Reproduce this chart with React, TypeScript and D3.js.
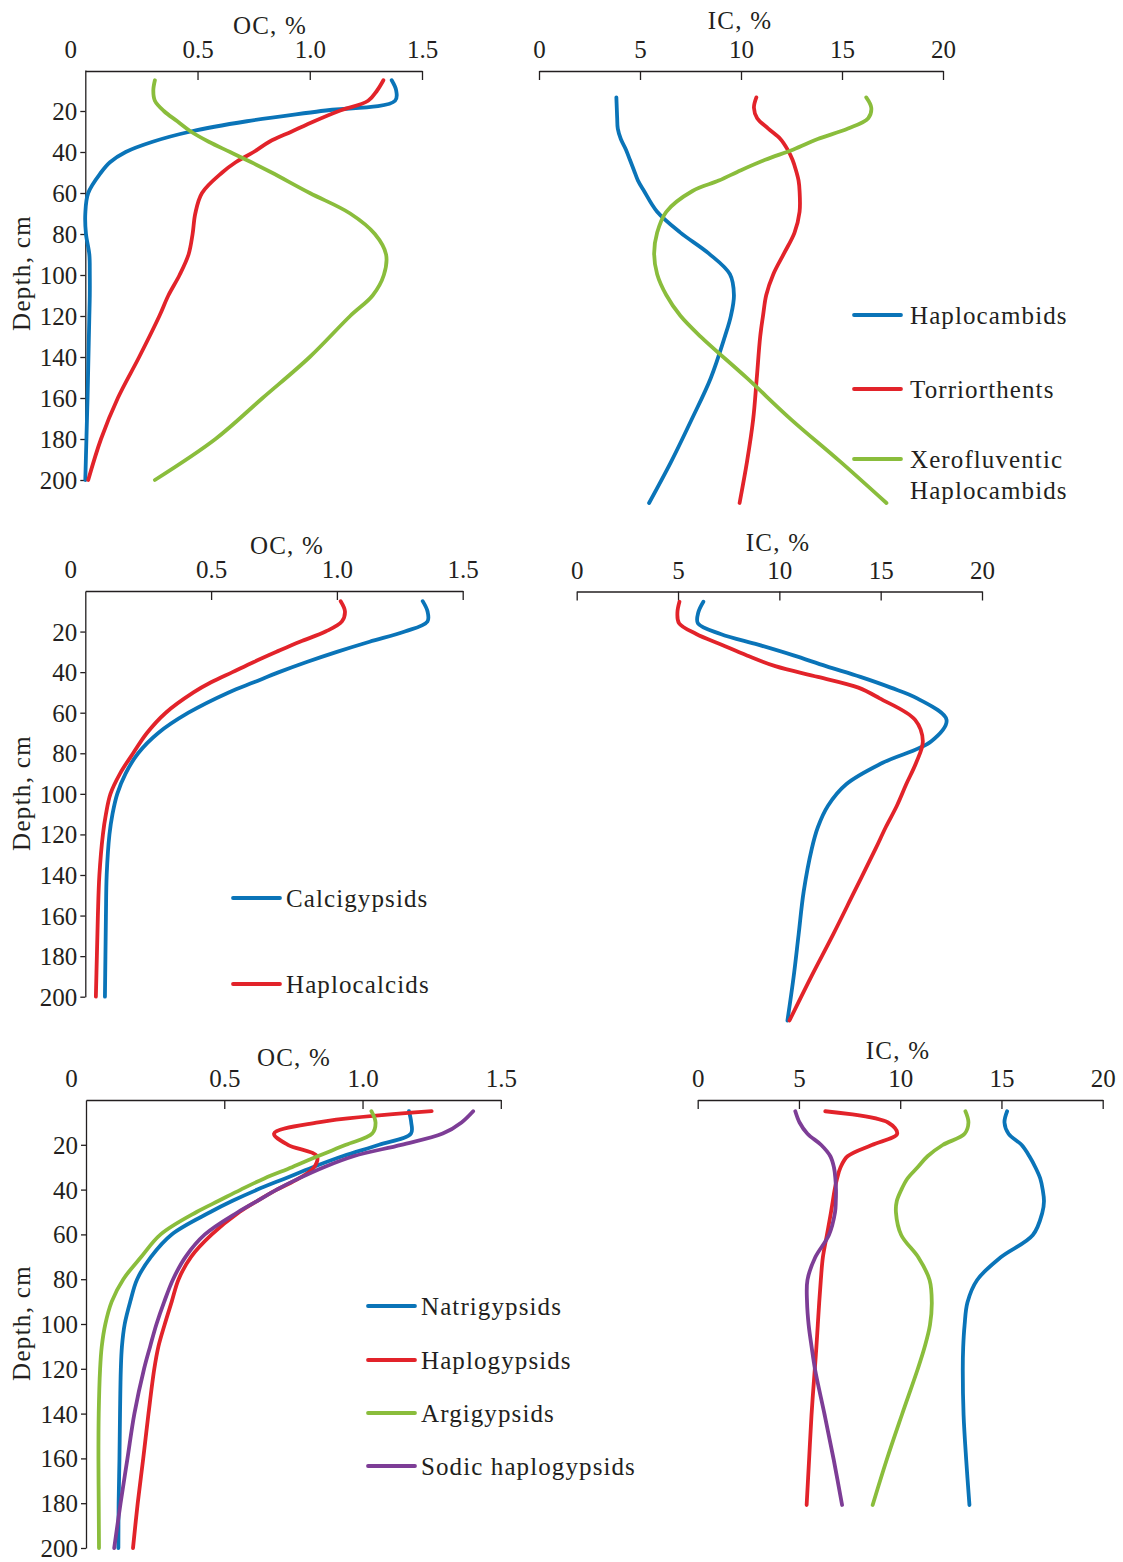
import React, { useEffect, useRef } from 'react';
import * as d3 from 'd3';

// depth grids (cm)
const depths = [5, 10, 15, 20, 25, 30, 35, 40, 45, 50, 60, 70, 80, 90, 100, 110, 120, 140, 160, 180, 200];
const depthsTo180 = [5, 10, 15, 20, 25, 30, 35, 40, 45, 50, 60, 70, 80, 90, 100, 110, 120, 140, 160, 180];
const depthTicks = [20, 40, 60, 80, 100, 120, 140, 160, 180, 200];
const ocTicks = [0, 0.5, 1.0, 1.5];
const icTicks = [0, 5, 10, 15, 20];

// Row 1: Haplocambids / Torriorthents / Xerofluventic Haplocambids
const ocHaplocambids = [1.365, 1.385, 1.38, 1.05, 0.72, 0.47, 0.3, 0.18, 0.11, 0.07, 0.013, 0.0, 0.003, 0.018, 0.02, 0.02, 0.018, 0.014, 0.01, 0.005, 0.0];
const ocTorriorthents = [1.328, 1.3, 1.26, 1.13, 1.02, 0.92, 0.82, 0.75, 0.67, 0.61, 0.52, 0.49, 0.478, 0.46, 0.42, 0.37, 0.33, 0.24, 0.145, 0.07, 0.013];
const ocXerofluventic = [0.31, 0.303, 0.31, 0.35, 0.41, 0.47, 0.55, 0.645, 0.74, 0.83, 1.0, 1.18, 1.29, 1.34, 1.33, 1.28, 1.18, 1.0, 0.79, 0.58, 0.31];
const icHaplocambids = [3.83, 3.85, 3.87, 3.9, 4.05, 4.3, 4.5, 4.7, 4.9, 5.2, 5.85, 7.0, 8.4, 9.45, 9.65, 9.5, 9.2, 8.5, 7.55, 6.55, 5.45];
const icTorriorthents = [10.76, 10.64, 10.8, 11.35, 11.95, 12.3, 12.55, 12.72, 12.85, 12.9, 12.9, 12.65, 12.13, 11.6, 11.25, 11.09, 10.95, 10.78, 10.6, 10.3, 9.93];
const icXerofluventic = [16.2, 16.45, 16.3, 15.3, 13.8, 12.6, 11.2, 10.0, 8.9, 7.6, 6.3, 5.85, 5.7, 5.85, 6.3, 7.0, 8.0, 10.3, 12.5, 14.9, 17.2];

// Row 2: Calcigypsids / Haplocalcids
const ocCalcigypsids = [1.341, 1.36, 1.36, 1.27, 1.13, 1.0, 0.88, 0.77, 0.67, 0.57, 0.41, 0.29, 0.21, 0.16, 0.127, 0.108, 0.096, 0.085, 0.082, 0.08, 0.078];
const ocHaplocalcids = [1.015, 1.032, 1.02, 0.955, 0.853, 0.76, 0.67, 0.585, 0.5, 0.43, 0.32, 0.245, 0.19, 0.138, 0.1, 0.082, 0.07, 0.056, 0.05, 0.046, 0.042];
const icCalcigypsids = [6.25, 6.0, 5.98, 7.1, 8.95, 10.7, 12.3, 14.0, 15.5, 16.8, 18.25, 17.5, 15.1, 13.3, 12.4, 11.9, 11.6, 11.2, 10.95, 10.7, 10.4];
const icHaplocalcids = [5.07, 4.97, 5.05, 5.9, 7.15, 8.4, 9.8, 11.9, 13.9, 14.95, 16.7, 17.08, 16.75, 16.26, 15.8, 15.25, 14.75, 13.7, 12.65, 11.55, 10.5];

// Row 3: Natrigypsids / Haplogypsids / Argigypsids / Sodic haplogypsids
const ocNatrigypsids = [1.168, 1.176, 1.175, 1.06, 0.93, 0.82, 0.72, 0.62, 0.53, 0.45, 0.31, 0.235, 0.185, 0.16, 0.14, 0.13, 0.126, 0.123, 0.121, 0.118, 0.117];
const ocHaplogypsids = [1.25, 0.84, 0.68, 0.73, 0.835, 0.825, 0.77, 0.69, 0.62, 0.555, 0.455, 0.38, 0.335, 0.31, 0.285, 0.262, 0.247, 0.226, 0.207, 0.187, 0.17];
const ocArgigypsids = [1.032, 1.047, 1.035, 0.94, 0.84, 0.745, 0.645, 0.56, 0.48, 0.4, 0.27, 0.2, 0.135, 0.093, 0.07, 0.057, 0.051, 0.046, 0.045, 0.046, 0.047];
const ocSodicHaplogypsids = [1.4, 1.358, 1.29, 1.14, 0.97, 0.86, 0.77, 0.69, 0.62, 0.55, 0.43, 0.36, 0.315, 0.283, 0.255, 0.232, 0.21, 0.175, 0.15, 0.125, 0.102];
const icNatrigypsids = [15.28, 15.15, 15.35, 16.0, 16.38, 16.68, 16.92, 17.04, 17.1, 17.02, 16.55, 14.95, 13.8, 13.32, 13.18, 13.11, 13.09, 13.13, 13.26, 13.42];
const icHaplogypsids = [6.3, 9.4, 9.85, 8.6, 7.4, 7.05, 6.88, 6.76, 6.67, 6.58, 6.38, 6.18, 6.08, 6.0, 5.93, 5.86, 5.78, 5.62, 5.5, 5.38];
const icArgigypsids = [13.22, 13.37, 13.18, 12.1, 11.35, 10.85, 10.35, 10.05, 9.83, 9.79, 10.05, 10.9, 11.45, 11.56, 11.47, 11.2, 10.85, 10.08, 9.33, 8.64];
const icSodicHaplogypsids = [4.82, 5.03, 5.42, 6.1, 6.55, 6.73, 6.8, 6.83, 6.82, 6.78, 6.48, 5.8, 5.42, 5.4, 5.48, 5.63, 5.8, 6.27, 6.72, 7.13];

const colors = {
  blue: '#0a74b8',
  red: '#e2232a',
  green: '#8abd3c',
  purple: '#7d3d96'
};
const ink = '#231f20';
const font = '"Liberation Serif", "Times New Roman", serif';

interface Series { name: string; color: string; depths: number[]; values: number[]; }
interface Panel {
  kind: 'OC' | 'IC';
  x0: number; x1: number;   // pixel range of x axis
  axisY: number;            // y of the top axis line
  yTop: number; yBottom: number; // pixel positions of depth 0 and 200
  title: [number, number];
  yAxis?: boolean;
  yLabelY?: number;
  series: Series[];
  legend?: { x: number; ys: number[]; labels: string[][] };
}

const panels: Panel[] = [
  {
    kind: 'OC', x0: 85.3, x1: 422, axisY: 71, yTop: 70, yBottom: 480, title: [270, 25], yAxis: true, yLabelY: 273,
    series: [
      { name: 'Haplocambids', color: colors.blue, depths, values: ocHaplocambids },
      { name: 'Torriorthents', color: colors.red, depths, values: ocTorriorthents },
      { name: 'Xerofluventic', color: colors.green, depths, values: ocXerofluventic }
    ]
  },
  {
    kind: 'IC', x0: 539, x1: 943, axisY: 71, yTop: 87, yBottom: 503, title: [740, 20],
    series: [
      { name: 'Haplocambids', color: colors.blue, depths, values: icHaplocambids },
      { name: 'Torriorthents', color: colors.red, depths, values: icTorriorthents },
      { name: 'Xerofluventic', color: colors.green, depths, values: icXerofluventic }
    ],
    legend: { x: 854, ys: [315, 389, 459], labels: [['Haplocambids'], ['Torriorthents'], ['Xerofluventic', 'Haplocambids']] }
  },
  {
    kind: 'OC', x0: 85.3, x1: 462.7, axisY: 591, yTop: 591, yBottom: 996.7, title: [287, 545], yAxis: true, yLabelY: 793,
    series: [
      { name: 'Calcigypsids', color: colors.blue, depths, values: ocCalcigypsids },
      { name: 'Haplocalcids', color: colors.red, depths, values: ocHaplocalcids }
    ],
    legend: { x: 233, ys: [898, 984], labels: [['Calcigypsids'], ['Haplocalcids']] }
  },
  {
    kind: 'IC', x0: 576.7, x1: 982, axisY: 591.5, yTop: 591, yBottom: 1020.5, title: [778, 542],
    series: [
      { name: 'Calcigypsids', color: colors.blue, depths, values: icCalcigypsids },
      { name: 'Haplocalcids', color: colors.red, depths, values: icHaplocalcids }
    ]
  },
  {
    kind: 'OC', x0: 86, x1: 500.8, axisY: 1100, yTop: 1100, yBottom: 1548, title: [294, 1057], yAxis: true, yLabelY: 1323,
    series: [
      { name: 'Natrigypsids', color: colors.blue, depths, values: ocNatrigypsids },
      { name: 'Haplogypsids', color: colors.red, depths, values: ocHaplogypsids },
      { name: 'Argigypsids', color: colors.green, depths, values: ocArgigypsids },
      { name: 'Sodic haplogypsids', color: colors.purple, depths, values: ocSodicHaplogypsids }
    ],
    legend: { x: 368, ys: [1306, 1360, 1413, 1466], labels: [['Natrigypsids'], ['Haplogypsids'], ['Argigypsids'], ['Sodic haplogypsids']] }
  },
  {
    kind: 'IC', x0: 697.7, x1: 1102.7, axisY: 1100, yTop: 1100, yBottom: 1550, title: [898, 1050],
    series: [
      { name: 'Natrigypsids', color: colors.blue, depths: depthsTo180, values: icNatrigypsids },
      { name: 'Haplogypsids', color: colors.red, depths: depthsTo180, values: icHaplogypsids },
      { name: 'Argigypsids', color: colors.green, depths: depthsTo180, values: icArgigypsids },
      { name: 'Sodic haplogypsids', color: colors.purple, depths: depthsTo180, values: icSodicHaplogypsids }
    ]
  }
];

const App = () => {
  const ref = useRef<SVGSVGElement>(null);

  useEffect(() => {
    const svg = d3.select(ref.current);
    svg.selectAll('*').remove();

    panels.forEach(p => {
      const isOC = p.kind === 'OC';
      const x = d3.scaleLinear().domain(isOC ? [0, 1.5] : [0, 20]).range([p.x0, p.x1]);
      const y = d3.scaleLinear().domain([0, 200]).range([p.yTop, p.yBottom]);
      const g = svg.append('g');

      // top axis, ticks pointing down into the plot
      const xAxis = d3.axisTop(x)
        .tickValues(isOC ? ocTicks : icTicks)
        .tickFormat(d => isOC ? (d === 0 ? '0' : d3.format('.1f')(d as number)) : `${d}`)
        .tickSizeInner(-9)
        .tickSizeOuter(0)
        .tickPadding(13);
      const ax = g.append('g')
        .attr('transform', `translate(0,${p.axisY})`)
        .call(xAxis);
      ax.select('.domain').attr('stroke', ink).attr('stroke-width', 1.3);
      ax.selectAll('.tick line').attr('stroke', ink).attr('stroke-width', 1.3);
      ax.selectAll('.tick text')
        .attr('fill', ink)
        .attr('font-family', font)
        .attr('font-size', 25)
        .attr('x', (d: any) => (isOC && d === 0 ? -15 : 0));
      if (isOC) ax.selectAll('.tick').filter((d: any) => d === 0).select('line').remove();

      g.append('text')
        .attr('x', p.title[0])
        .attr('y', p.title[1])
        .attr('dy', '0.34em')
        .attr('text-anchor', 'middle')
        .attr('fill', ink)
        .attr('font-family', font)
        .attr('font-size', 25)
        .attr('letter-spacing', 1.2)
        .text(isOC ? 'OC, %' : 'IC, %');

      if (p.yAxis) {
        const yAxis = d3.axisLeft(y).tickValues(depthTicks).tickSize(5).tickSizeOuter(0).tickPadding(3);
        const ay = g.append('g')
          .attr('transform', `translate(${p.x0},0)`)
          .call(yAxis);
        ay.select('.domain').attr('stroke', ink).attr('stroke-width', 1.3);
        ay.selectAll('.tick line').attr('stroke', ink).attr('stroke-width', 1.3);
        ay.selectAll('.tick text')
          .attr('fill', ink)
          .attr('font-family', font)
          .attr('font-size', 25)
          .attr('dy', '0.34em');

        g.append('text')
          .attr('transform', `translate(30,${p.yLabelY}) rotate(-90)`)
          .attr('text-anchor', 'middle')
          .attr('fill', ink)
          .attr('font-family', font)
          .attr('font-size', 25)
          .attr('letter-spacing', 1.3)
          .text('Depth, cm');
      }

      const line = d3.line<[number, number]>()
        .x(d => x(d[1]))
        .y(d => y(d[0]))
        .curve(d3.curveCatmullRom.alpha(0.5));

      p.series.forEach(s => {
        const pts = s.depths.map((dep, i) => [dep, s.values[i]] as [number, number]);
        g.append('path')
          .attr('d', line(pts)!)
          .attr('fill', 'none')
          .attr('stroke', s.color)
          .attr('stroke-width', 3.8)
          .attr('stroke-linecap', 'round')
          .attr('stroke-linejoin', 'round');
      });

      if (p.legend) {
        const lg = p.legend;
        lg.ys.forEach((ly, i) => {
          g.append('line')
            .attr('x1', lg.x)
            .attr('x2', lg.x + 47)
            .attr('y1', ly)
            .attr('y2', ly)
            .attr('stroke', p.series[i].color)
            .attr('stroke-width', 3.8)
            .attr('stroke-linecap', 'round');
          lg.labels[i].forEach((lab, j) => {
            g.append('text')
              .attr('x', lg.x + (p.kind === 'IC' ? 56 : 53))
              .attr('y', ly + j * 31)
              .attr('dy', '0.34em')
              .attr('fill', ink)
              .attr('font-family', font)
              .attr('font-size', 25)
              .attr('letter-spacing', 1.1)
              .text(lab);
          });
        });
      }
    });
  }, []);

  return (
    <div style={{ position: 'absolute', left: 0, top: 0, background: '#fff' }}>
      <svg ref={ref} width={1123} height={1562} style={{ display: 'block' }} />
    </div>
  );
};

export default App;
